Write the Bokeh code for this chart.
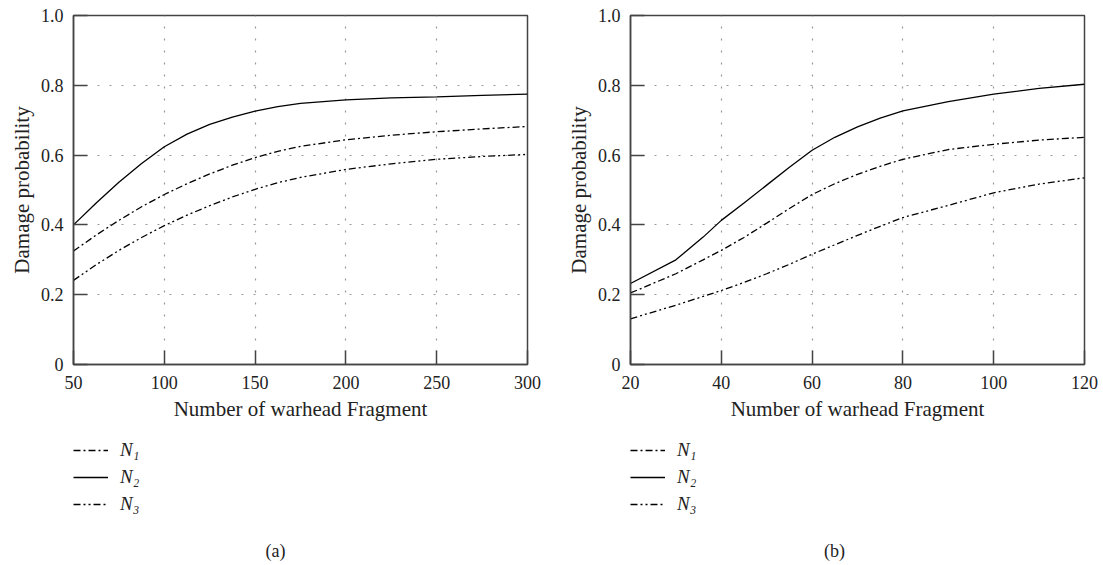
from bokeh.plotting import figure
from bokeh.layouts import row, column
from bokeh.models import Legend, LegendItem, Label, FixedTicker
from bokeh.embed import file_html
from bokeh.resources import INLINE

# ---- data: panel (a)
xa = [50, 62.5, 75, 87.5, 100, 112.5, 125, 137.5, 150, 162.5, 175, 200, 225, 250, 275, 300]
a_n1 = [0.325, 0.371, 0.413, 0.452, 0.487, 0.518, 0.546, 0.571, 0.593, 0.611, 0.625, 0.644, 0.657, 0.667, 0.675, 0.682]
a_n2 = [0.400, 0.463, 0.522, 0.576, 0.624, 0.660, 0.688, 0.709, 0.726, 0.739, 0.748, 0.758, 0.764, 0.767, 0.771, 0.775]
a_n3 = [0.241, 0.286, 0.327, 0.364, 0.398, 0.428, 0.455, 0.480, 0.502, 0.521, 0.536, 0.559, 0.575, 0.588, 0.596, 0.602]

# ---- data: panel (b)
xb = [20, 30, 36, 40, 45, 50, 55, 60, 65, 70, 75, 80, 90, 100, 110, 120]
b_n1 = [0.205, 0.260, 0.300, 0.327, 0.364, 0.405, 0.447, 0.487, 0.518, 0.545, 0.568, 0.588, 0.616, 0.631, 0.643, 0.651]
b_n2 = [0.232, 0.300, 0.365, 0.413, 0.463, 0.514, 0.565, 0.614, 0.651, 0.681, 0.706, 0.727, 0.753, 0.775, 0.791, 0.803]
b_n3 = [0.131, 0.170, 0.195, 0.212, 0.235, 0.260, 0.287, 0.316, 0.343, 0.370, 0.396, 0.421, 0.456, 0.492, 0.517, 0.535]

xa_ticks = [50, 100, 150, 200, 250, 300]
xb_ticks = [20, 40, 60, 80, 100, 120]
y_ticks = [0, 0.2, 0.4, 0.6, 0.8, 1.0]
y_tick_labels = ["0", "0.2", "0.4", "0.6", "0.8", "1.0"]
series_labels = ["N\u2081", "N\u2082", "N\u2083"]
captions = ["(a)", "(b)"]
x_title = "Number of warhead Fragment"
y_title = "Damage probability"

FONT = "'Liberation Serif', 'DejaVu Serif', serif"
AX = "#444444"
TXT = "#222222"
DASHES = ["7 3 2 3", "solid", "7 3 2 3 2 3"]

PLOT_H = 425
LEG_H = 140
FRAME_W = 454


def make_panel(xs, series, xticks, width, bl, br):
    p = figure(width=width, height=PLOT_H, x_range=(xticks[0], xticks[-1]), y_range=(0, 1.0),
               output_backend="svg", toolbar_location=None,
               min_border_left=bl, min_border_right=br, min_border_top=15, min_border_bottom=61)
    p.outline_line_color = AX
    p.outline_line_width = 1.5
    p.background_fill_color = "white"
    p.border_fill_color = "white"

    p.xaxis.ticker = FixedTicker(ticks=xticks)
    p.yaxis.ticker = FixedTicker(ticks=y_ticks)
    p.yaxis.major_label_overrides = {t: l for t, l in zip(y_ticks, y_tick_labels)}
    for ax in (p.xaxis, p.yaxis):
        ax.axis_line_color = AX
        ax.axis_line_width = 1.5
        ax.major_tick_line_color = AX
        ax.major_tick_line_width = 1.5
        ax.major_tick_in = 14
        ax.major_tick_out = 0
        ax.minor_tick_line_color = None
        ax.major_label_text_font = FONT
        ax.major_label_text_font_size = "18px"
        ax.major_label_text_color = TXT
        ax.axis_label_text_font = FONT
        ax.axis_label_text_font_size = "21px"
        ax.axis_label_text_font_style = "normal"
        ax.axis_label_text_color = TXT
    p.xaxis.axis_label = x_title
    p.yaxis.axis_label = y_title
    p.xaxis.major_label_standoff = 11
    p.yaxis.major_label_standoff = 10
    p.xaxis.axis_label_standoff = 5
    p.yaxis.axis_label_standoff = 4

    for g in (p.xgrid, p.ygrid):
        g.grid_line_color = "#999999"
        g.grid_line_dash = "2 10"
        g.grid_line_width = 1.2

    for ys, d in zip(series, DASHES):
        p.line(xs, ys, line_color="black", line_width=1.3, line_dash=d)
    return p


def make_legend(xs, series, caption, cap_px, width):
    # legend strip below each panel (its frame lines up with the panel frame);
    # its ranges keep the proxy lines out of view
    lf = figure(width=width, height=LEG_H, x_range=(1000, 1000 + FRAME_W), y_range=(0, LEG_H),
                output_backend="svg", toolbar_location=None,
                x_axis_location=None, y_axis_location=None,
                min_border_left=0, min_border_right=0, min_border_top=0, min_border_bottom=0)
    lf.outline_line_color = None
    lf.xgrid.visible = False
    lf.ygrid.visible = False
    items = []
    for ys, d, lab in zip(series, DASHES, series_labels):
        r = lf.line(xs, ys, line_color="black", line_width=1.3, line_dash=d)
        items.append(LegendItem(label=lab, renderers=[r]))
    leg = Legend(items=items, location=(0, 50), orientation="vertical")
    leg.border_line_color = None
    leg.background_fill_alpha = 0
    leg.label_text_font = FONT
    leg.label_text_font_style = "italic"
    leg.label_text_font_size = "19px"
    leg.label_text_color = TXT
    leg.glyph_width = 35
    leg.glyph_height = 20
    leg.label_height = 20
    leg.label_standoff = 12
    leg.spacing = 5
    leg.padding = 0
    leg.margin = 0
    lf.add_layout(leg, "center")

    cap = Label(x=1000 + cap_px, y=LEG_H - 125, text=caption, text_font=FONT, text_font_size="18px",
                text_color=TXT, text_align="center", text_baseline="middle")
    lf.add_layout(cap)
    return lf


W1, W2 = 560, 543
pa = make_panel(xa, [a_n1, a_n2, a_n3], xa_ticks, W1, 73, 33)
pb = make_panel(xb, [b_n1, b_n2, b_n3], xb_ticks, W2, 70, 19)
la = make_legend(xa, [a_n1, a_n2, a_n3], captions[0], 275 - 73, W1)
lb = make_legend(xb, [b_n1, b_n2, b_n3], captions[1], 834 - 630, W2)

layout = row(column(pa, la), column(pb, lb))
open("out.html", "w").write(file_html(layout, INLINE))
